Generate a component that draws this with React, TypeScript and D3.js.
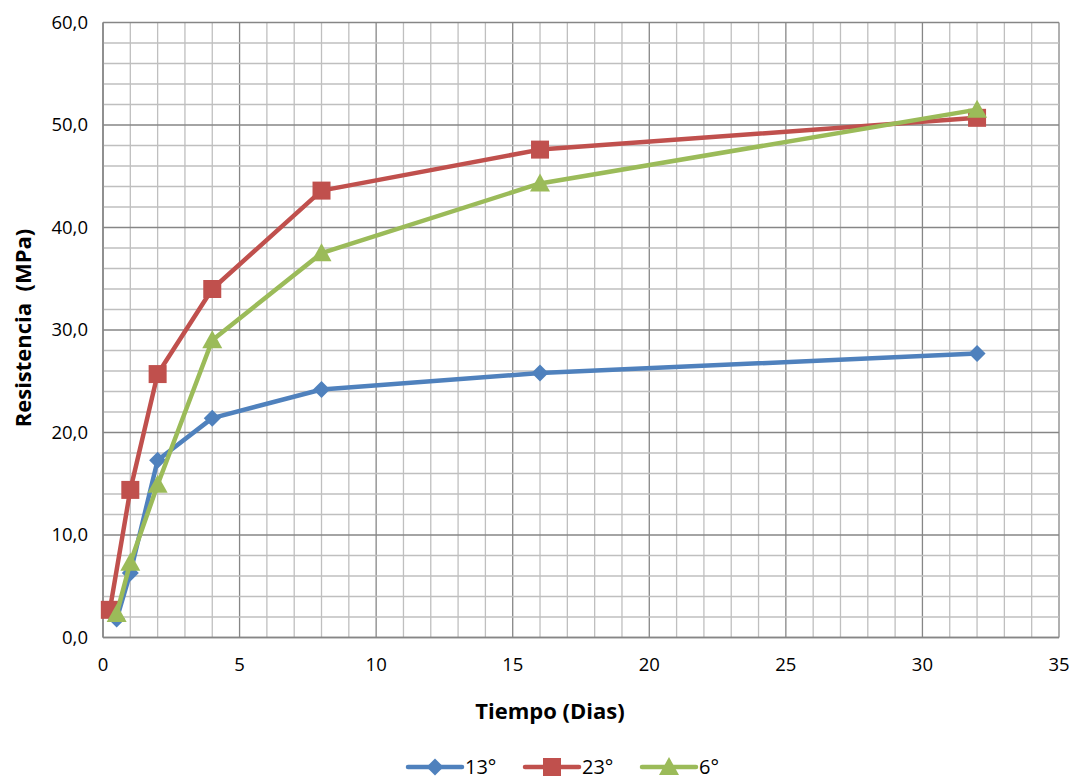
import React from "react";
import * as d3 from "d3";

const days13 = [0.5, 1, 2, 4, 8, 16, 32];
const vals13 = [1.8, 6.3, 17.3, 21.4, 24.2, 25.8, 27.7];
const days23 = [0.25, 1, 2, 4, 8, 16, 32];
const vals23 = [2.7, 14.4, 25.7, 34.0, 43.6, 47.6, 50.7];
const days6 = [0.5, 1, 2, 4, 8, 16, 32];
const vals6 = [2.3, 7.3, 14.9, 29.0, 37.5, 44.3, 51.5];
const xTicks = [0, 5, 10, 15, 20, 25, 30, 35];
const yTicks = [0, 10, 20, 30, 40, 50, 60];
const seriesNames = ["13°", "23°", "6°"];

const W = 1072, H = 780;
const L = 103, R = 1059, T = 22.5, B = 637.5;
const font = "'Open Sans', sans-serif";

export default function App() {
  const x = d3.scaleLinear().domain([0, 35]).range([L, R]);
  const y = d3.scaleLinear().domain([0, 60]).range([B, T]);
  const colors = ["#4F81BD", "#C0504D", "#9BBB59"];
  const series = [
    { name: seriesNames[0], xs: days13, ys: vals13, color: colors[0], marker: "diamond" },
    { name: seriesNames[1], xs: days23, ys: vals23, color: colors[1], marker: "square" },
    { name: seriesNames[2], xs: days6, ys: vals6, color: colors[2], marker: "triangle" },
  ];
  const line = d3
    .line<[number, number]>()
    .x((d) => x(d[0]))
    .y((d) => y(d[1]));

  const marker = (type: string, cx: number, cy: number, color: string, key: any) => {
    if (type === "diamond") {
      const s = 8.5;
      return <path key={key} d={`M${cx},${cy - s}L${cx + s},${cy}L${cx},${cy + s}L${cx - s},${cy}Z`} fill={color} />;
    }
    if (type === "square") {
      const s = 9;
      return <rect key={key} x={cx - s} y={cy - s} width={2 * s} height={2 * s} fill={color} />;
    }
    const s = 10;
    return <path key={key} d={`M${cx},${cy - s}L${cx + s},${cy + s * 0.8}L${cx - s},${cy + s * 0.8}Z`} fill={color} />;
  };

  const minorX = d3.range(0, 36, 1);
  const minorY = d3.range(0, 61, 2);

  const legendItems = [
    { x0: 408, color: colors[0], marker: "diamond", text: seriesNames[0] },
    { x0: 525, color: colors[1], marker: "square", text: seriesNames[1] },
    { x0: 642, color: colors[2], marker: "triangle", text: seriesNames[2] },
  ];
  const ly = 767;

  return (
    <svg width={W} height={H} style={{ position: "absolute", left: 0, top: 0, background: "#fff" }} fontFamily={font}>
      <rect x={0} y={0} width={W} height={H} fill="#fff" />
      {minorX.map((v) => (
        <line key={"mx" + v} x1={x(v)} x2={x(v)} y1={T} y2={B} stroke={v % 5 === 0 ? "#868686" : "#BFBFBF"} strokeWidth={1.3} />
      ))}
      {minorY.map((v) => (
        <line key={"my" + v} x1={L} x2={R} y1={y(v)} y2={y(v)} stroke={v % 10 === 0 ? "#868686" : "#BFBFBF"} strokeWidth={1.3} />
      ))}
      <line x1={L} x2={L} y1={T} y2={B} stroke="#868686" strokeWidth={1.5} />
      <line x1={L} x2={R} y1={B} y2={B} stroke="#868686" strokeWidth={1.5} />
      {yTicks.map((v) => (
        <text key={"yt" + v} x={88} y={y(v)} dy="0.35em" textAnchor="end" fontSize={18.5} fill="#000">
          {d3.format(".1f")(v).replace(".", ",")}
        </text>
      ))}
      {xTicks.map((v) => (
        <text key={"xt" + v} x={x(v)} y={665} dy="0.35em" textAnchor="middle" fontSize={18.5} fill="#000">
          {v}
        </text>
      ))}
      <text x={550} y={711} dy="0.35em" textAnchor="middle" fontSize={22} fontWeight="bold" fill="#000">
        Tiempo (Dias)
      </text>
      <text transform={`translate(23,${(T + B) / 2 - 2}) rotate(-90)`} dy="0.35em" textAnchor="middle" fontSize={22} fontWeight="bold" fill="#000" style={{ whiteSpace: "pre" }}>
        Resistencia  (MPa)
      </text>
      {series.map((s, i) => {
        const pts: [number, number][] = s.xs.map((d, j) => [d, s.ys[j]]);
        return (
          <g key={"s" + i}>
            <path d={line(pts) || ""} fill="none" stroke={s.color} strokeWidth={4.5} strokeLinejoin="round" strokeLinecap="round" />
            {pts.map((p, j) => marker(s.marker, x(p[0]), y(p[1]), s.color, j))}
          </g>
        );
      })}
      {legendItems.map((it, i) => (
        <g key={"lg" + i}>
          <line x1={it.x0} x2={it.x0 + 54} y1={ly} y2={ly} stroke={it.color} strokeWidth={4.5} strokeLinecap="round" />
          {marker(it.marker, it.x0 + 27, ly, it.color, "m")}
          <text x={it.x0 + 57} y={ly} dy="0.35em" fontSize={20} fill="#000">
            {it.text}
          </text>
        </g>
      ))}
    </svg>
  );
}
